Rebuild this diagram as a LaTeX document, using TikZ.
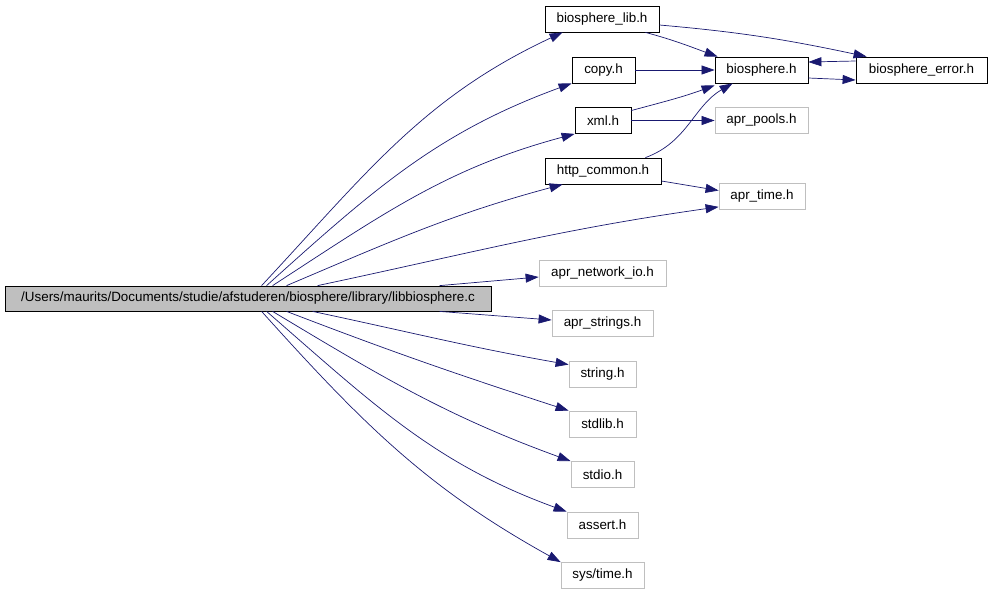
\documentclass[tikz,border=0pt]{standalone}
\usepackage{fontspec}
\setmainfont{Liberation Sans}
\usetikzlibrary{arrows.meta}
\definecolor{edgeblue}{HTML}{191970}
\definecolor{boxgray}{HTML}{BFBFBF}

\begin{document}
\begin{tikzpicture}[>={Triangle[length=13pt,width=9pt]}, x=1pt, y=1pt,
  hfile/.style={draw=black, line width=0.8pt, inner sep=0pt, minimum height=26pt,
    font=\fontsize{13.4}{16}\selectfont},
  sysfile/.style={hfile, draw=boxgray},
  dep/.style={->, draw=edgeblue, line width=0.7pt}]

\useasboundingbox (0,0) rectangle (992,-595);

% File principale
\node[hfile, fill=boxgray, minimum width=486pt, minimum height=25pt] (main) at (248,-298.5)
  {/Users/maurits/Documents/studie/afstuderen/biosphere/library/libbiosphere.c};

% Header del progetto
\node[hfile, minimum width=114pt] (lib) at (602,-19) {biosphere\_lib.h};
\node[hfile, minimum width=63pt] (copy) at (603.5,-70) {copy.h};
\node[hfile, minimum width=93pt] (bio) at (761.5,-70) {biosphere.h};
\node[hfile, minimum width=131pt] (err) at (921.5,-70) {biosphere\_error.h};
\node[hfile, minimum width=56pt] (xml) at (603,-120.5) {xml.h};
\node[hfile, minimum width=116pt] (http) at (603,-171) {http\_common.h};

% Header esterni
\node[sysfile, minimum width=93pt] (pools) at (761.5,-120.5) {apr\_pools.h};
\node[sysfile, minimum width=86pt] (time) at (762,-196.5) {apr\_time.h};
\node[sysfile, minimum width=127pt] (netio) at (602.5,-273) {apr\_network\_io.h};
\node[sysfile, minimum width=101pt] (strings) at (602.5,-323) {apr\_strings.h};
\node[sysfile, minimum width=67pt] (string) at (602.5,-374) {string.h};
\node[sysfile, minimum width=67pt] (stdlib) at (602.5,-424) {stdlib.h};
\node[sysfile, minimum width=63pt] (stdio) at (602.5,-474.5) {stdio.h};
\node[sysfile, minimum width=71pt] (assert) at (602.5,-525) {assert.h};
\node[sysfile, minimum width=83pt] (systime) at (602.5,-575.5) {sys/time.h};

% Archi verso l'alto
\draw[dep] ([xshift=257pt]main.north west) to[out=47, in=-155] ([xshift=18pt]lib.south west);
\draw[dep] ([xshift=262pt]main.north west) to[out=42, in=-160] (copy.south west);
\draw[dep] ([xshift=268pt]main.north west) to[out=33, in=-165] (xml.south west);
\draw[dep] ([xshift=282pt]main.north west) to[out=23, in=-165] ([xshift=18pt]http.south west);
\draw[dep] ([xshift=313pt]main.north west) to[out=12, in=-172] ([yshift=3pt]time.south west);
\draw[dep] ([xshift=435pt]main.north west) -- ([yshift=-4pt]netio.west);

% Archi verso il basso
\draw[dep] ([xshift=435pt]main.south west) -- ([yshift=3pt]strings.west);
\draw[dep] ([xshift=308pt]main.south west) to[out=-12, in=170] ([yshift=-4pt]string.north west);
\draw[dep] ([xshift=282pt]main.south west) to[out=-21, in=162] (stdlib.north west);
\draw[dep] ([xshift=268pt]main.south west) to[out=-31, in=160] (stdio.north west);
\draw[dep] ([xshift=262pt]main.south west) to[out=-41, in=160] (assert.north west);
\draw[dep] ([xshift=257pt]main.south west) to[out=-48, in=151] (systime.north west);

% Archi tra gli header
\draw[dep] ([xshift=-14pt]lib.south east) to[out=-15, in=160] ([xshift=3pt]bio.north west);
\draw[dep] ([yshift=-6pt]lib.east) to[out=-5, in=168] ([xshift=11pt]err.north west);
\draw[dep] (copy.east) -- (bio.west);
\draw[dep] ([yshift=-8pt]bio.east) -- ([yshift=-10pt]err.west);
\draw[dep] ([yshift=9pt]err.west) -- ([yshift=8pt]bio.east);
\draw[dep] ([yshift=10pt]xml.east) to[out=15, in=-160] ([yshift=-2pt]bio.south west);
\draw[dep] (xml.east) -- (pools.west);
\draw[dep] ([xshift=-16pt]http.north east) to[out=20, in=-150] ([xshift=18pt]bio.south west);
\draw[dep] ([yshift=-10pt]http.east) -- ([yshift=6pt]time.west);

\end{tikzpicture}
\end{document}
